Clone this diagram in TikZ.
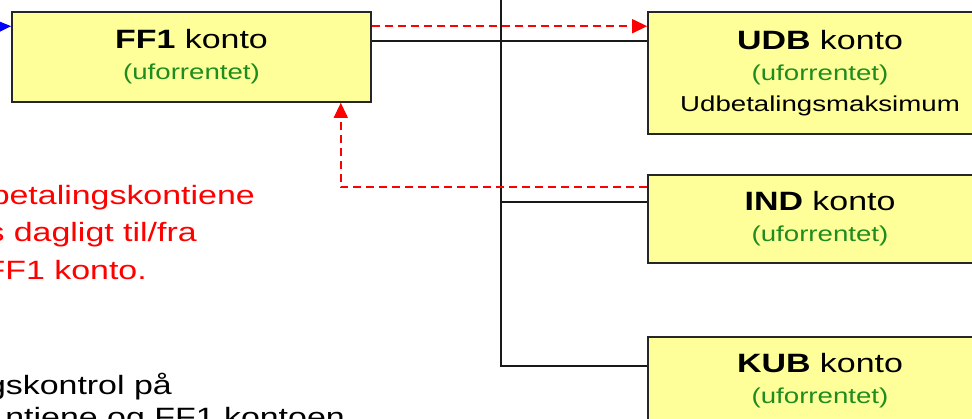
\documentclass[tikz,border=0pt]{standalone}
\usepackage{fontspec}
\setmainfont{Liberation Sans}[FakeStretch=1.28]
\usetikzlibrary{arrows.meta}
\definecolor{boxfill}{RGB}{255,255,153}
\definecolor{txtgreen}{RGB}{30,140,30}
\definecolor{lnred}{RGB}{255,0,0}
\definecolor{lnblue}{RGB}{0,0,255}
\newcommand{\ttlline}[2]{{\fontsize{26.5}{31}\selectfont\textbf{#1} #2}}
\newcommand{\greentxt}[1]{{\color{txtgreen}#1}}
\tikzset{
  acct/.style={draw=black!85, line width=1.6pt, fill=boxfill, minimum width=344pt,
    align=center, inner sep=0pt, font=\fontsize{21.6}{31}\selectfont},
  wire/.style={draw=black!90, line width=1.5pt},
  flow/.style={draw=lnred, line width=1.4pt, dash pattern=on 8pt off 5pt,
    -{Triangle[length=15pt,width=14pt]}},
  inflow/.style={draw=lnblue, line width=1.4pt, -{Triangle[length=14pt,width=12pt]}},
  note/.style={anchor=base east, inner sep=0pt, font=\fontsize{26.5}{37}\selectfont}
}
\begin{document}
\begin{tikzpicture}[x=1pt,y=-1pt]
\useasboundingbox (0,0) rectangle (972,419);
\clip (0,0) rectangle (972,419);

% account boxes
\node[acct, minimum width=359pt, minimum height=90pt] (ff1) at (191.5,57)
  {\ttlline{FF1}{konto}\\\greentxt{(uforrentet)}};
\node[acct, minimum height=122pt] (udb) at (820,73)
  {\ttlline{UDB}{konto}\\\greentxt{(uforrentet)}\\Udbetalingsmaksimum};
\node[acct, minimum height=88pt] (ind) at (820,219)
  {\ttlline{IND}{konto}\\\greentxt{(uforrentet)}};
\node[acct, minimum height=88pt] (kub) at (820,381)
  {\ttlline{KUB}{konto}\\\greentxt{(uforrentet)}};

% connection points
\coordinate (trunk) at (501,-5);
\coordinate (bluesrc) at (-10,27);
\coordinate (indin) at ([yshift=-28pt]ind.north west);
\coordinate (indout) at ([yshift=-13pt]ind.north west);
\coordinate (ffin) at ([xshift=-31pt]ff1.south east);

% black account tree
\draw[wire] ([yshift=-30pt]ff1.north east) -- ([yshift=-30pt]udb.north west);
\draw[wire] (trunk) |- ([yshift=-30pt]kub.north west);
\draw[wire] (indin) -- (trunk |- indin);

% red daily transfers
\draw[flow] ([yshift=-15pt]ff1.north east) -- ([yshift=-15pt]udb.north west);
\draw[flow] (indout) -| (ffin);

% blue incoming
\draw[inflow] (bluesrc) -- ([yshift=-15pt]ff1.north west);

% side notes
\node[note, text=lnred] (r1) at (255,205) {betalingskontiene};
\node[note, text=lnred] (r2) at (197,242) {s dagligt til/fra};
\node[note, text=lnred] (r3) at (147,280) {FF1 konto.};
\node[note, text=black] (b1) at (172,395) {gskontrol på};
\node[note, text=black] (b2) at (345,427) {ntiene og FF1 kontoen};
\end{tikzpicture}
\end{document}
